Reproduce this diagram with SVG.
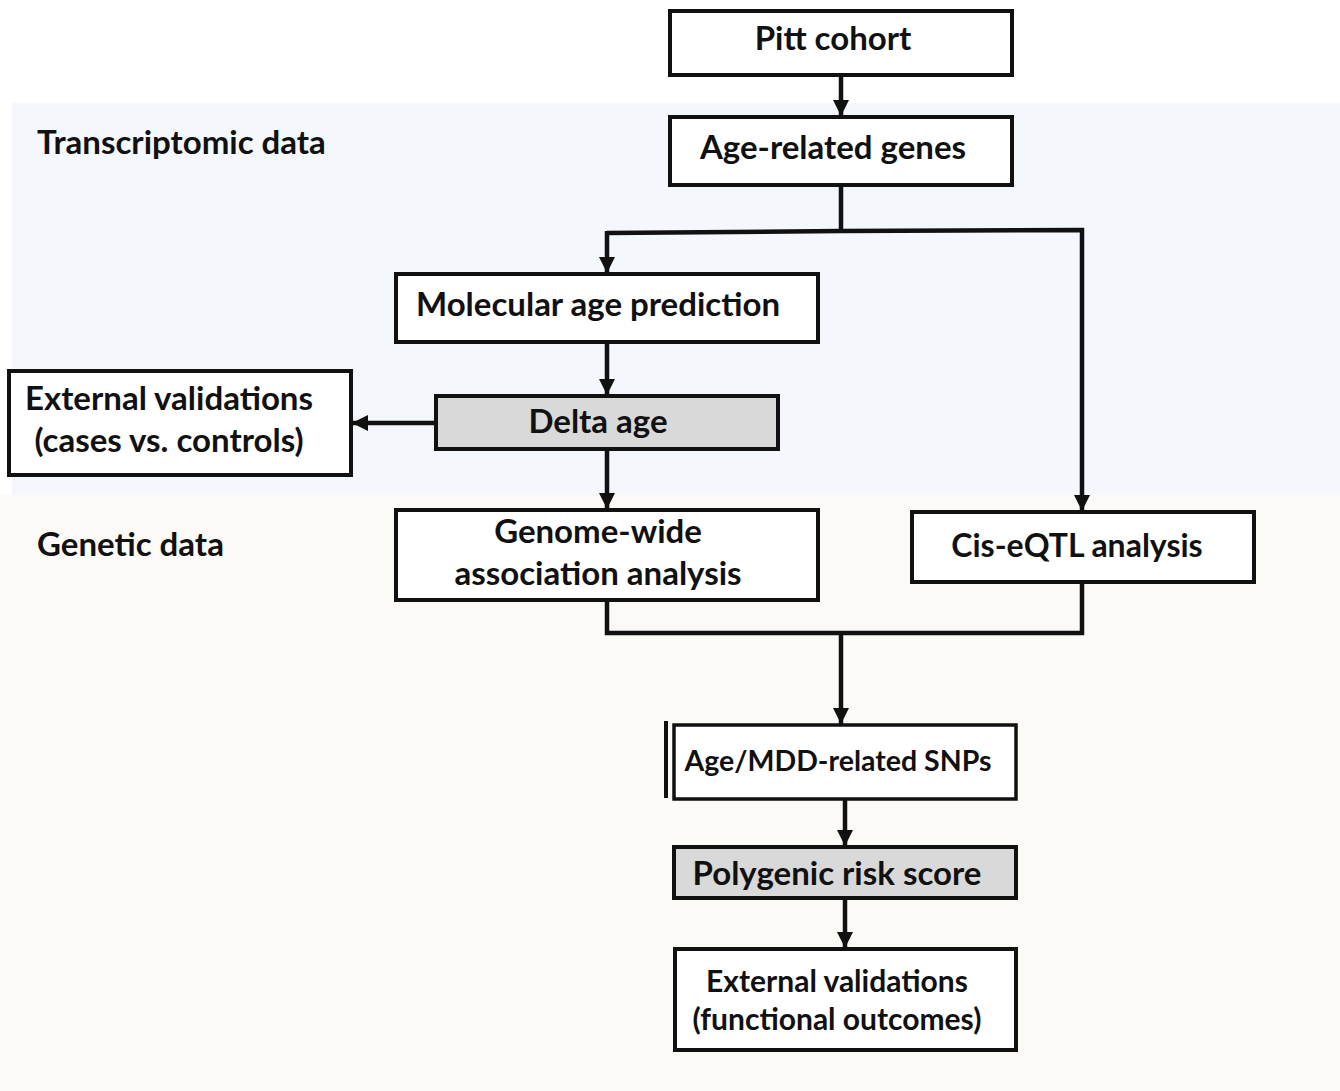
<svg xmlns="http://www.w3.org/2000/svg" width="1340" height="1091" viewBox="0 0 1340 1091">
<style>
.box{fill:#ffffff;stroke:#111;stroke-width:4}
.gray{fill:#d9d9d9;stroke:#111;stroke-width:4}
.t{font-family:Lato,"Open Sans","Liberation Sans",sans-serif;font-weight:bold;font-size:33px;fill:#111;text-anchor:middle}
.lbl{font-family:Lato,"Open Sans","Liberation Sans",sans-serif;font-weight:bold;font-size:33px;fill:#111}
.c{fill:none;stroke:#111;stroke-width:4.5}
</style>
<defs>
<marker id="ah" viewBox="0 0 10 10" refX="10" refY="5" markerWidth="3.6" markerHeight="3.6" orient="auto" markerUnits="strokeWidth">
<path d="M0,0 L10,5 L0,10 z" fill="#111"/>
</marker>
</defs>
<rect x="0" y="0" width="1340" height="1091" fill="#ffffff"/>
<rect x="12" y="103" width="1328" height="392" fill="#f4f7fc"/>
<rect x="0" y="495" width="1340" height="596" fill="#fcfaf6"/>
<g id="label-transcriptomic"><text class="lbl" x="37" y="154">Transcriptomic data</text></g>
<g id="label-genetic"><text class="lbl" x="37" y="556">Genetic data</text></g>
<g id="connectors">
<line class="c" x1="841" y1="75" x2="841" y2="116" marker-end="url(#ah)"/>
<polyline class="c" points="841,185 841,231"/>
<polyline class="c" points="607,233 841,231 1082,230 1082,511" marker-end="url(#ah)"/>
<line class="c" x1="607" y1="231" x2="607" y2="273" marker-end="url(#ah)"/>
<line class="c" x1="607" y1="342" x2="607" y2="395" marker-end="url(#ah)"/>
<line class="c" x1="436" y1="423" x2="352" y2="423" marker-end="url(#ah)"/>
<line class="c" x1="607" y1="449" x2="607" y2="509" marker-end="url(#ah)"/>
<polyline class="c" points="607,600 607,633 1082,633 1082,582"/>
<line class="c" x1="841" y1="633" x2="841" y2="724" marker-end="url(#ah)"/>
<line class="c" x1="845" y1="799" x2="845" y2="846" marker-end="url(#ah)"/>
<line class="c" x1="845" y1="898" x2="845" y2="948" marker-end="url(#ah)"/>
</g>
<g id="pitt"><rect class="box" x="670" y="11" width="342" height="64"/><text class="t" x="833" y="50">Pitt cohort</text></g>
<g id="age-genes"><rect class="box" x="670" y="117" width="342" height="68"/><text class="t" x="833" y="159">Age-related genes</text></g>
<g id="mol-age"><rect class="box" x="396" y="274" width="422" height="68"/><text class="t" x="598" y="316">Molecular age prediction</text></g>
<g id="delta"><rect class="gray" x="436" y="396" width="342" height="53"/><text class="t" x="598" y="433">Delta age</text></g>
<g id="ext-cases"><rect class="box" x="9" y="371" width="342" height="104"/><text class="t" x="169" y="410">External validations</text><text class="t" x="169" y="452">(cases vs. controls)</text></g>
<g id="gwas"><rect class="box" x="396" y="510" width="422" height="90"/><text class="t" x="598" y="543">Genome-wide</text><text class="t" x="598" y="585">association analysis</text></g>
<g id="cis"><rect class="box" x="912" y="512" width="342" height="70"/><text class="t" x="1077" y="557" style="font-size:32px">Cis-eQTL analysis</text></g>
<g id="snps"><rect class="box" x="674" y="725" width="342" height="74" style="stroke-width:3.5"/><line x1="666" y1="721" x2="666" y2="798" stroke="#111" stroke-width="4"/><text class="t" x="838" y="771" style="font-size:28.5px">Age/MDD-related SNPs</text></g>
<g id="prs"><rect class="gray" x="674" y="847" width="342" height="51"/><text class="t" x="837" y="885">Polygenic risk score</text></g>
<g id="ext-func"><rect class="box" x="675" y="949" width="341" height="101"/><text class="t" x="837" y="992" style="font-size:30px">External validations</text><text class="t" x="837" y="1030" style="font-size:30px">(functional outcomes)</text></g>
</svg>
